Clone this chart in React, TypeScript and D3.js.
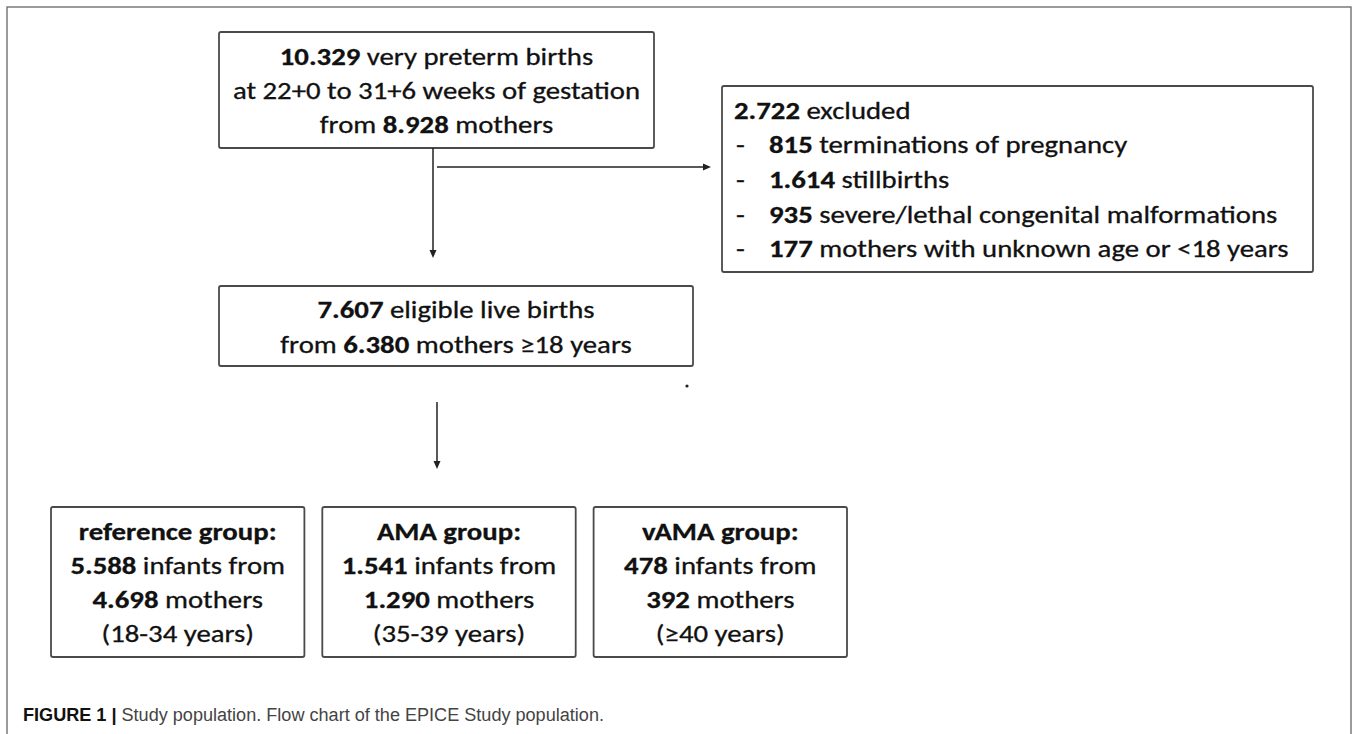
import React from "react";
import * as d3 from "d3";

// ---------- data ----------
const topLines: [string, boolean][][] = [
  [["10.329", true], [" very preterm births", false]],
  [["at 22+0 to 31+6 weeks of gestation", false]],
  [["from ", false], ["8.928", true], [" mothers", false]],
];
const excludedTitle: [string, boolean][] = [["2.722", true], [" excluded", false]];
const excludedCounts = ["815", "1.614", "935", "177"];
const excludedReasons = [
  "terminations of pregnancy",
  "stillbirths",
  "severe/lethal congenital malformations",
  "mothers with unknown age or <18 years",
];
const eligibleLines: [string, boolean][][] = [
  [["7.607", true], [" eligible live births", false]],
  [["from ", false], ["6.380", true], [" mothers ≥18 years", false]],
];
const groupNames = ["reference group:", "AMA group:", "vAMA group:"];
const groupInfants = ["5.588", "1.541", "478"];
const groupMothers = ["4.698", "1.290", "392"];
const groupAges = ["(18-34 years)", "(35-39 years)", "(≥40 years)"];
const captionBold = "FIGURE 1 |";
const captionText = " Study population. Flow chart of the EPICE Study population.";

// ---------- style ----------
const W = 1358;
const H = 734;
const FONT = "Carlito, Lato, 'Open Sans', sans-serif";
const FS = 25;
const SX = 1.15;
const TEXT = "#111";
const STROKE = "#4a4a4a";

function Line({ x, y, parts, anchor = "middle" }: { x: number; y: number; parts: [string, boolean][]; anchor?: string }) {
  return (
    <text
      transform={`translate(${x},${y + FS * 0.36}) scale(${SX},1)`}
      textAnchor={anchor as any}
      fontFamily={FONT}
      fontSize={FS}
      fill={TEXT}
      stroke={TEXT}
      strokeWidth={0.3}
      style={{ whiteSpace: "pre" }}
    >
      {parts.map(([t, b], i) => (
        <tspan key={i} fontWeight={b ? 700 : 400}>{t}</tspan>
      ))}
    </text>
  );
}

function Box({ x0, y0, x1, y1 }: { x0: number; y0: number; x1: number; y1: number }) {
  return <rect x={x0} y={y0} width={x1 - x0} height={y1 - y0} rx={2} fill="#fff" stroke={STROKE} strokeWidth={1.8} />;
}

function Arrow({ x1, y1, x2, y2 }: { x1: number; y1: number; x2: number; y2: number }) {
  const ang = Math.atan2(y2 - y1, x2 - x1);
  const len = 8, half = 3.5;
  const bx = x2 - len * Math.cos(ang), by = y2 - len * Math.sin(ang);
  const px = -Math.sin(ang) * half, py = Math.cos(ang) * half;
  const head = d3.line()([[x2, y2], [bx + px, by + py], [bx - px, by - py]]) + "Z";
  return (
    <g>
      <line x1={x1} y1={y1} x2={bx} y2={by} stroke="#222" strokeWidth={1.5} />
      <path d={head} fill="#222" />
    </g>
  );
}

export default function App() {
  // layout
  const top = { x0: 219, y0: 32, x1: 654, y1: 148 };
  const exc = { x0: 722, y0: 86, x1: 1313, y1: 272 };
  const mid = { x0: 219, y0: 286, x1: 693, y1: 366 };
  const groupX = d3.scaleBand<string>().domain(groupNames).range([51, 847]).paddingInner(0.066).paddingOuter(0);
  const gy0 = 507, gy1 = 657;

  const lineY = (y0: number, y1: number, n: number, step: number) =>
    d3.range(n).map((i) => (y0 + y1) / 2 + (i - (n - 1) / 2) * step);

  const topY = lineY(top.y0, top.y1, topLines.length, 34);
  const excY = lineY(exc.y0, exc.y1, excludedReasons.length + 1, 34.6);
  const midY = lineY(mid.y0, mid.y1, eligibleLines.length, 35);
  const grpY = lineY(gy0, gy1, 4, 33.7);
  const topCx = (top.x0 + top.x1) / 2;
  const midCx = (mid.x0 + mid.x1) / 2;

  return (
    <svg width={W} height={H} style={{ position: "absolute", left: 0, top: 0, background: "#fff" }}>
      <rect x={7} y={7} width={1344} height={760} fill="none" stroke="#666" strokeWidth={1.3} />

      <Box {...top} />
      {topLines.map((p, i) => <Line key={i} x={topCx} y={topY[i]} parts={p} />)}

      <Arrow x1={433} y1={top.y1} x2={433} y2={258} />
      <Arrow x1={437} y1={167} x2={711} y2={167} />

      <Box {...exc} />
      <Line x={734} y={excY[0]} parts={excludedTitle} anchor="start" />
      {excludedReasons.map((r, i) => (
        <g key={i}>
          <Line x={736} y={excY[i + 1]} parts={[["-", false]]} anchor="start" />
          <Line x={769} y={excY[i + 1]} parts={[[excludedCounts[i], true], [" " + r, false]]} anchor="start" />
        </g>
      ))}

      <Box {...mid} />
      {eligibleLines.map((p, i) => <Line key={i} x={midCx} y={midY[i]} parts={p} />)}
      <circle cx={687} cy={386} r={1.6} fill="#222" />

      <Arrow x1={437} y1={402} x2={437} y2={469} />

      {groupNames.map((g, i) => {
        const x0 = groupX(g)!;
        const x1 = x0 + groupX.bandwidth();
        const cx = (x0 + x1) / 2;
        return (
          <g key={g}>
            <Box x0={x0} y0={gy0} x1={x1} y1={gy1} />
            <Line x={cx} y={grpY[0]} parts={[[g, true]]} />
            <Line x={cx} y={grpY[1]} parts={[[groupInfants[i], true], [" infants from", false]]} />
            <Line x={cx} y={grpY[2]} parts={[[groupMothers[i], true], [" mothers", false]]} />
            <Line x={cx} y={grpY[3]} parts={[[groupAges[i], false]]} />
          </g>
        );
      })}

      <text x={23} y={721} fontFamily="'Liberation Sans', Arial, sans-serif" fontSize={18} textLength={581} lengthAdjust="spacingAndGlyphs" style={{ whiteSpace: "pre" }}>
        <tspan fontWeight={700} fill="#111">{captionBold}</tspan>
        <tspan fill="#444">{captionText}</tspan>
      </text>
    </svg>
  );
}
